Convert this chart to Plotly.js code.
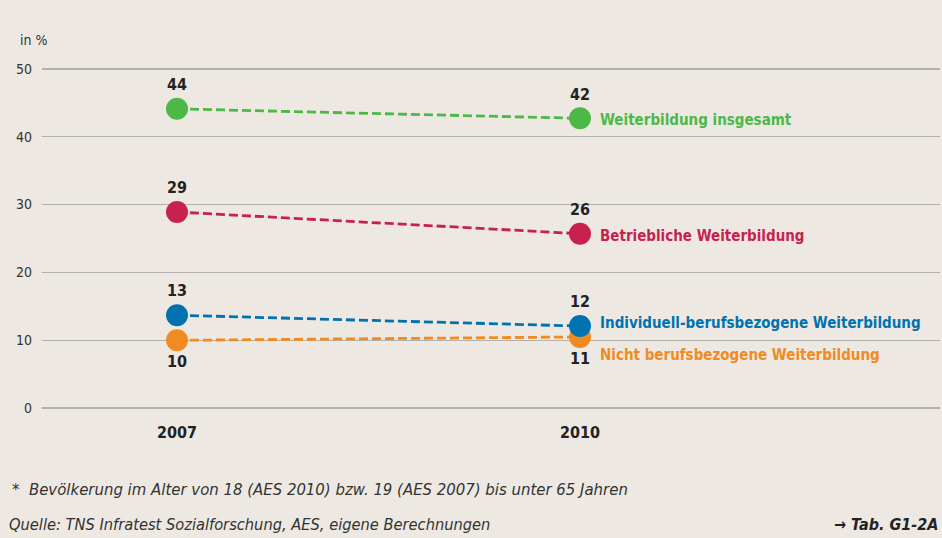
<!DOCTYPE html>
<html><head><meta charset="utf-8">
<script src="https://cdn.plot.ly/plotly-3.0.1.min.js"></script>
<style>html,body{margin:0;padding:0;background:#EDE9E2;}#chart{width:942px;height:538px;}</style>
</head><body><div id="chart"></div>
<script>
const years = [2007, 2010];
const seriesNames = ["Weiterbildung insgesamt", "Betriebliche Weiterbildung", "Individuell-berufsbezogene Weiterbildung", "Nicht berufsbezogene Weiterbildung"];
const valuesTotal = [44.1, 42.7];
const valuesBetrieb = [28.9, 25.7];
const valuesIndiv = [13.7, 12.1];
const valuesNicht = [10.0, 10.5];
const labelsTotal = ["44", "42"];
const labelsBetrieb = ["29", "26"];
const labelsIndiv = ["13", "12"];
const labelsNicht = ["10", "11"];
const colors = ["#4CB848", "#C8214F", "#0072B0", "#F18A22"];
const yTicks = [0, 10, 20, 30, 40, 50];

const FONT = "'DejaVu Sans Condensed', 'Liberation Sans Narrow', Roboto, sans-serif";
const allValues = [valuesTotal, valuesBetrieb, valuesIndiv, valuesNicht];
const allLabels = [labelsTotal, labelsBetrieb, labelsIndiv, labelsNicht];
const textPos = [["top center","top center"],["top center","top center"],["top center","top center"],["bottom center","bottom center"]];
const order = [3, 2, 1, 0];
const traces = order.map(i => ({
  x: years, y: allValues[i], type: "scatter", mode: "lines+markers+text",
  name: seriesNames[i],
  line: {color: colors[i], width: 2.8, dash: "9px,4px"},
  marker: {color: colors[i], size: 22},
  text: allLabels[i], textposition: textPos[i],
  textfont: {family: FONT, size: 16, color: "#222", weight: "bold"},
  cliponaxis: false, hoverinfo: "skip"
}));
const nameAnn = seriesNames.map((n, i) => ({
  x: years[1], y: allValues[i][1], xref: "x", yref: "y",
  text: "<b>" + n + "</b>", showarrow: false, xanchor: "left", yanchor: "middle",
  xshift: 18, yshift: (i === 3 ? -18 : (i === 2 ? 3 : -2)),
  font: {family: FONT, size: 15, color: colors[i]}
}));
const layout = {
  width: 942, height: 538,
  paper_bgcolor: "#EDE9E2", plot_bgcolor: "#EDE9E2",
  margin: {l: 42, r: 2, t: 62, b: 123},
  showlegend: false,
  xaxis: {range: [2005.995, 2012.68], tickvals: years, ticktext: years.map(String),
    showgrid: false, zeroline: false, showline: false, ticks: "", ticklabelstandoff: 6,
    tickfont: {family: FONT, size: 16, color: "#222", weight: "bold"}, fixedrange: true},
  yaxis: {range: [-1, 51], tickvals: yTicks, showgrid: true, gridcolor: "#B3B1AE", gridwidth: 1.5,
    zeroline: false, showline: false, ticks: "", ticklabelstandoff: 9,
    tickfont: {family: FONT, size: 14, color: "#333"}, fixedrange: true},
  annotations: nameAnn.concat([
    {xref: "paper", yref: "paper", x: -0.027, y: 1.062, text: "in %", showarrow: false, xanchor: "left", yanchor: "middle",
      font: {family: FONT, size: 14, color: "#333"}},
    {xref: "paper", yref: "paper", x: -0.036, y: -0.21, text: "<i>*  Bevölkerung im Alter von 18 (AES 2010) bzw. 19 (AES 2007) bis unter 65 Jahren</i>",
      showarrow: false, xanchor: "left", yanchor: "middle", font: {family: FONT, size: 16.6, color: "#333"}},
    {xref: "paper", yref: "paper", x: -0.039, y: -0.31, text: "<i>Quelle: TNS Infratest Sozialforschung, AES, eigene Berechnungen</i>",
      showarrow: false, xanchor: "left", yanchor: "middle", font: {family: FONT, size: 16.3, color: "#333"}},
    {xref: "paper", yref: "paper", x: 1.0, y: -0.31, text: "<b><i>→ Tab. G1-2A</i></b>",
      showarrow: false, xanchor: "right", yanchor: "middle", font: {family: FONT, size: 16, color: "#222"}}
  ])
};
Plotly.newPlot("chart", traces, layout, {staticPlot: true, displayModeBar: false});
</script></body></html>
